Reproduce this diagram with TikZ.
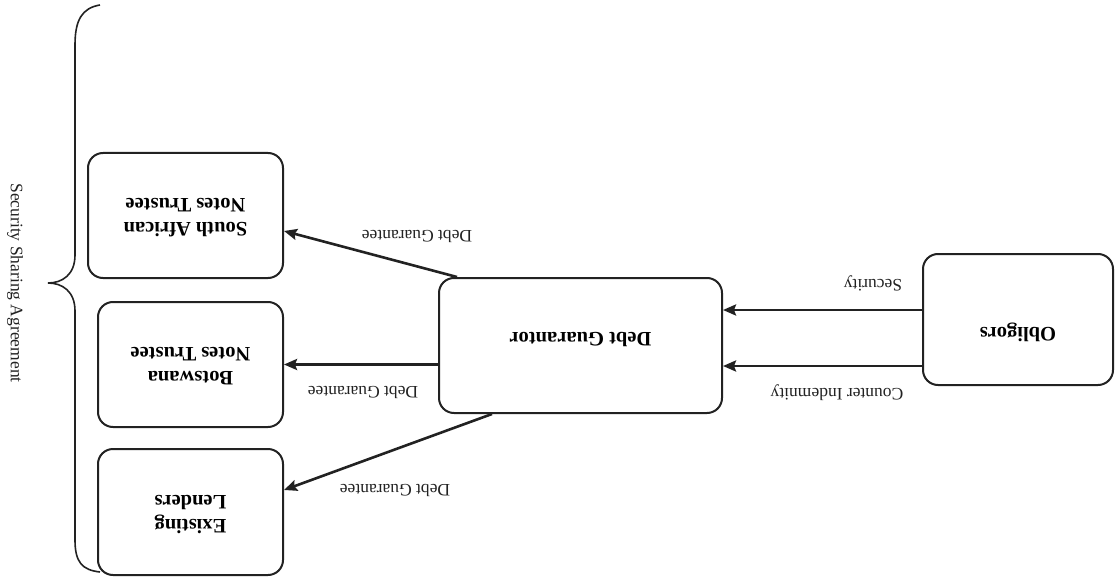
\documentclass[tikz,border=0pt]{standalone}
\usepackage{fontspec}
\setmainfont{Liberation Serif}
\usetikzlibrary{arrows.meta,calc}
\newcommand{\myflip}[1]{\rotatebox{180}{\begin{tabular}{@{}c@{}}#1\end{tabular}}}
\definecolor{ink}{HTML}{222222}
\begin{document}
\begin{tikzpicture}[x=1pt,y=-1pt,
  box/.style={draw=ink, line width=2pt, rounded corners=15pt, inner sep=0pt,
    font=\fontsize{20.5}{24}\selectfont\bfseries},
  lbl/.style={font=\fontsize{17.5}{20}\selectfont, text=ink, inner sep=0pt, rotate=180},
  arr/.style={draw=ink, line width=2.6pt, -{Stealth[length=13pt,width=11pt,inset=2pt]}}]
\useasboundingbox (0,0) rectangle (1115,577);
% boxes
\node[box, minimum width=195pt, minimum height=125pt] (sa) at (185.5,215.5) {\myflip{South African\\Notes Trustee}};
\node[box, minimum width=185pt, minimum height=125pt] (bo) at (190.5,364.5) {\myflip{Botswana\\Notes Trustee}};
\node[box, minimum width=185pt, minimum height=126pt] (el) at (190.5,512) {\myflip{Existing\\Lenders}};
\node[box, minimum width=283pt, minimum height=135pt] (dg) at (580.5,345.5) {\raisebox{13.5pt}[0pt][0pt]{\myflip{Debt Guarantor}}};
\node[box, minimum width=190pt, minimum height=131pt] (ob) at (1018,319.5) {\raisebox{-8pt}[0pt][0pt]{\myflip{Obligors}}};
% arrows
\coordinate (ysec) at (0,310);
\coordinate (ycnt) at (0,366);
\draw[arr] (ob.west |- ysec) -- (dg.east |- ysec);
\draw[arr] (ob.west |- ycnt) -- (dg.east |- ycnt);
\draw[arr] ($(dg.north west)+(19,0)$) -- ($(sa.east)+(0,15.5)$);
\draw[arr] (dg.west |- bo.east) -- (bo.east);
\draw[arr] ($(dg.south west)+(54,0)$) -- ($(el.east)+(0,-22)$);
% labels
\node[lbl] (lsec) at (873,283) {Security};
\node[lbl] (lcnt) at (837,393) {Counter Indemnity};
\node[lbl] (l1) at (417,236) {Debt Guarantee};
\node[lbl] (l2) at (363,392) {Debt Guarantee};
\node[lbl] (l3) at (395,490) {Debt Guarantee};
% brace
\draw[ink, line width=1.6pt] (100,5) .. controls (82,8) and (75,20) .. (75,45) -- (75,255)
  .. controls (75,275) and (62,283) .. (48,283) .. controls (62,283) and (75,291) .. (75,311)
  -- (75,540) .. controls (75,562) and (82,570) .. (100,572);
\node[font=\fontsize{17.5}{20}\selectfont, text=ink, inner sep=0pt, rotate=-90] (ssa) at (15,283) {Security Sharing Agreement};
\end{tikzpicture}
\end{document}
